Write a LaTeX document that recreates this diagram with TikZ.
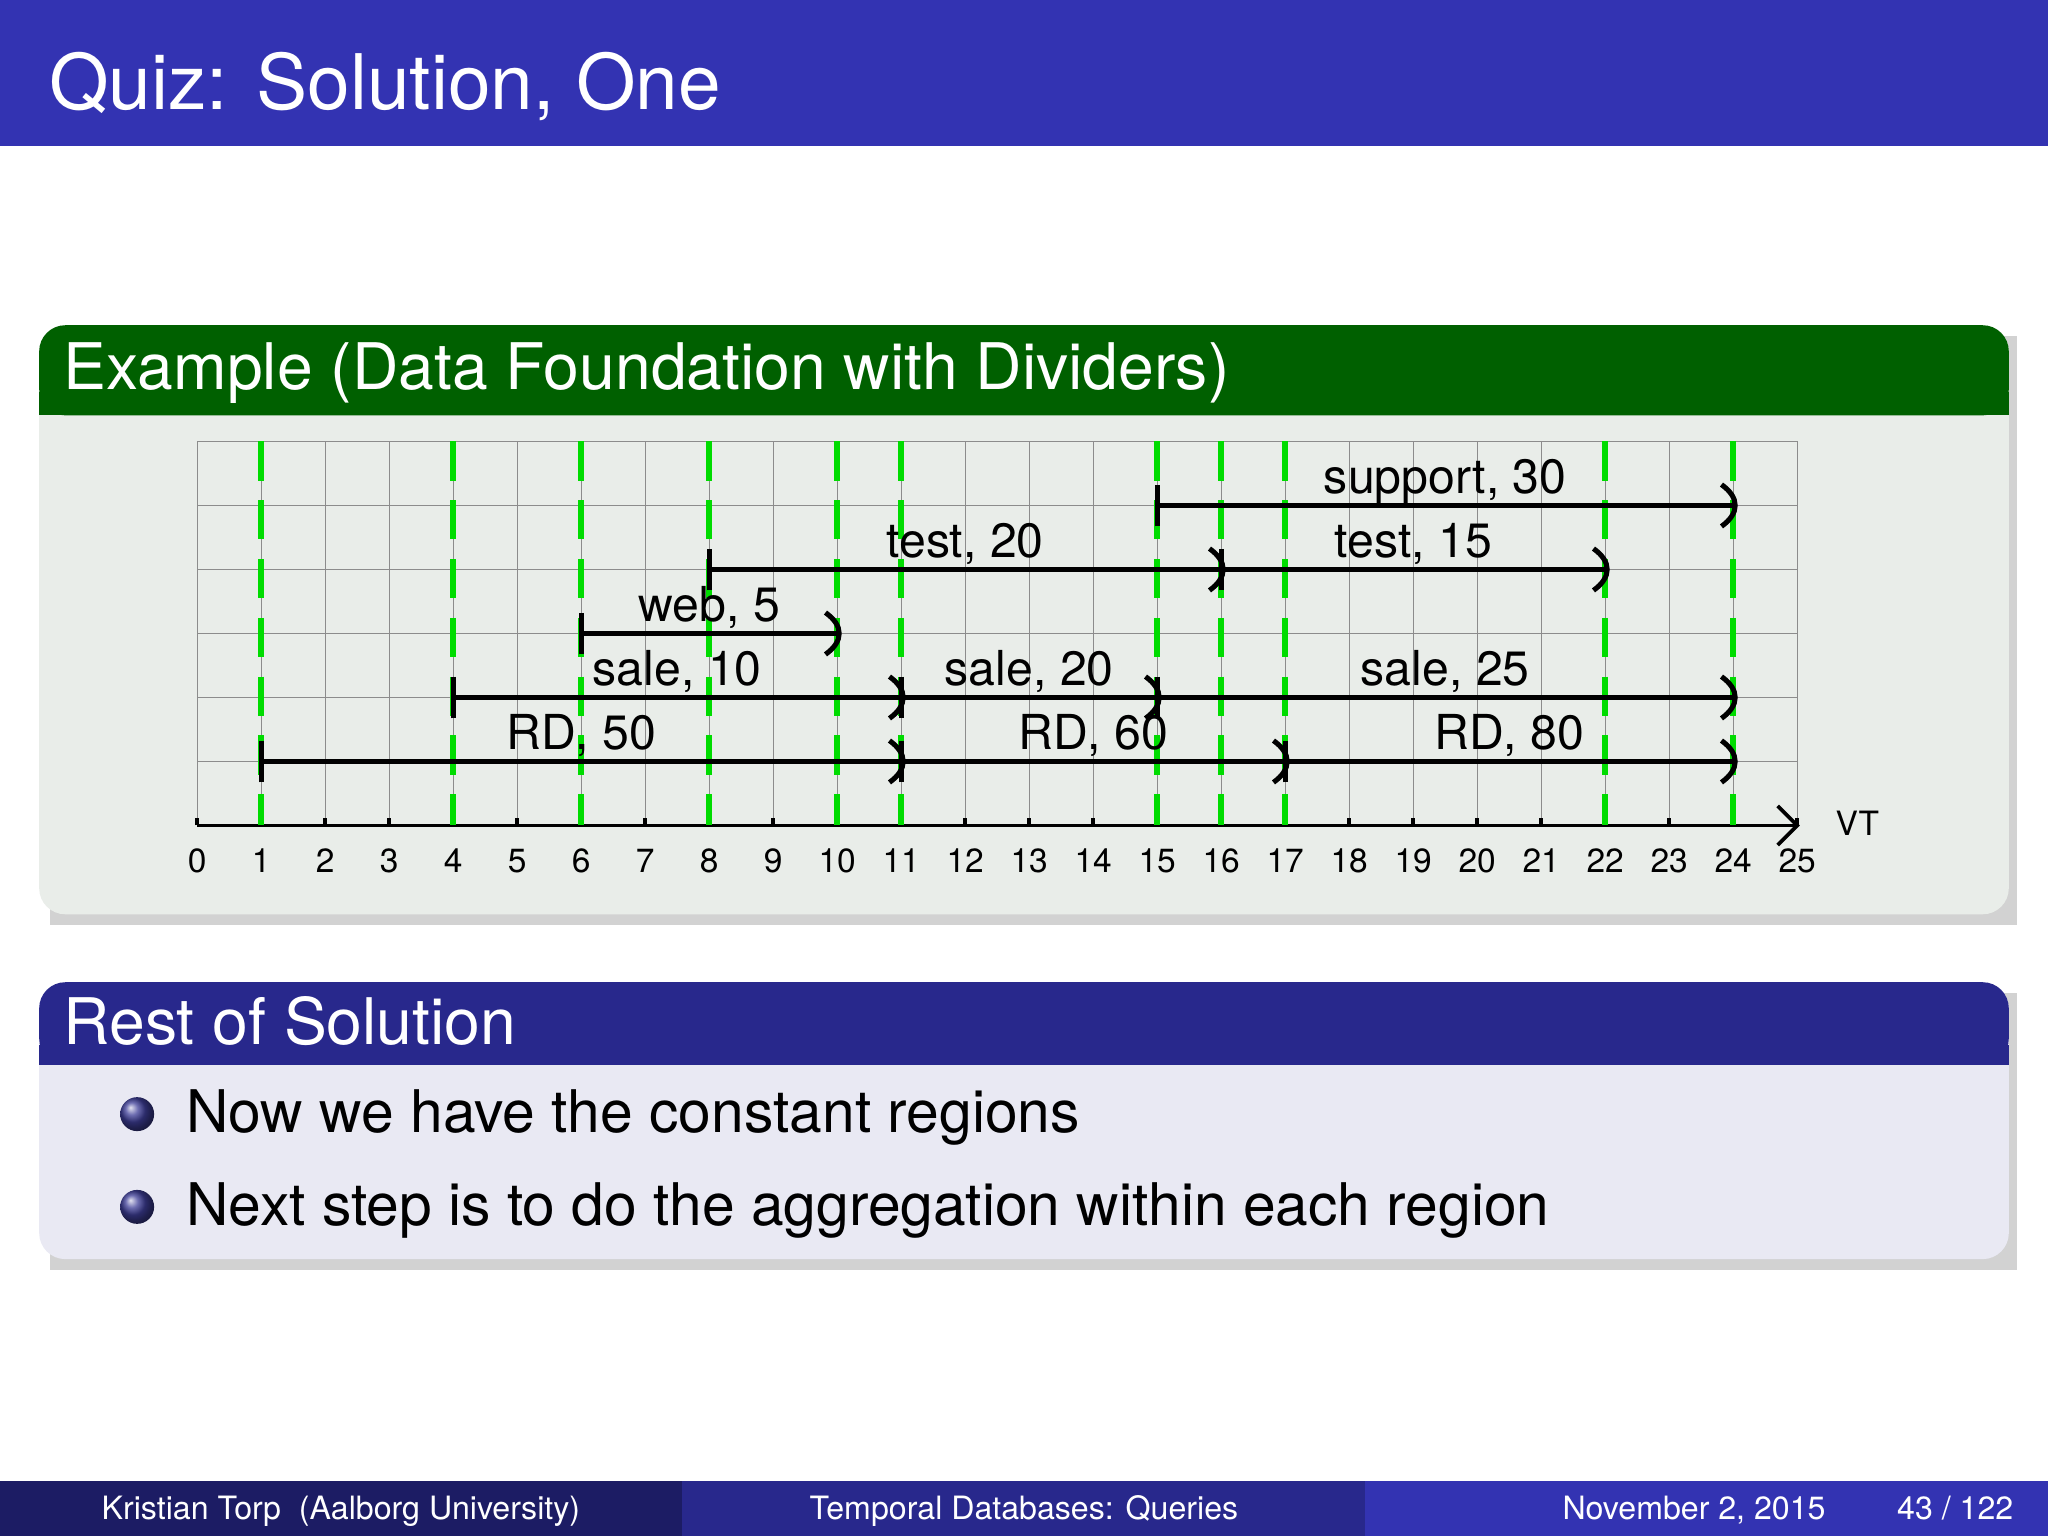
\documentclass[tikz,border=0pt]{standalone}
\usepackage{fontspec}
\setmainfont{TeX Gyre Heros}
\usetikzlibrary{arrows.meta,shadows}
\definecolor{hdr}{RGB}{51,51,178}
\definecolor{grn}{RGB}{0,96,0}
\definecolor{grnbody}{RGB}{233,237,233}
\definecolor{blu}{RGB}{40,40,140}
\definecolor{blubody}{RGB}{233,233,243}
\definecolor{foota}{RGB}{28,28,100}
\definecolor{footb}{RGB}{40,40,140}
\definecolor{divg}{RGB}{0,220,0}
\tikzset{
  lbl/.style={font=\fontsize{10.5}{12}\selectfont,inner sep=0pt,anchor=base},
  ivl/.style={line width=1.1pt},
  tick/.style={font=\fontsize{7.3}{9}\selectfont,anchor=base},
  bul/.style={circle,inner sep=0pt,minimum size=2.6mm,ball color=blu!90!white},
  btxt/.style={font=\fontsize{12.8}{16}\selectfont,anchor=base west,inner sep=0pt},
  foot/.style={font=\fontsize{7}{9}\selectfont,text=white,anchor=base,inner sep=0pt}
}
\begin{document}
\begin{tikzpicture}[x=0.1mm,y=-0.1mm]
\useasboundingbox (0,0) rectangle (1568,1176);
\fill[white] (0,0) rectangle (1568,1176);
% header
\fill[hdr] (0,0) rectangle (1568,112);
\node[anchor=base west,text=white,inner sep=0pt,font=\fontsize{16.7}{20}\selectfont] (title) at (37,84) {Quiz: Solution, One};
% example block
\fill[black!35,opacity=0.5] (38,257) rectangle (1544,708);
\fill[grnbody,rounded corners=2mm] (30,249) rectangle (1538,700);
\fill[grn,rounded corners=2mm] (30,249) rectangle (1538,318);
\fill[grn] (30,300) rectangle (1538,318);
\node[anchor=base west,text=white,inner sep=0pt,font=\fontsize{14}{17}\selectfont] (ex) at (48,298) {Example (Data Foundation with Dividers)};
% grid
\foreach \i in {0,...,25}{ \draw[black!45,line width=0.3pt] (151+49*\i,338) -- (151+49*\i,632); }
\foreach \r in {0,...,5}{ \draw[black!45,line width=0.3pt] (151,338+49*\r) -- (1376,338+49*\r); }
\foreach \i in {0,...,25}{
  \draw[line width=0.8pt] (151+49*\i,632) -- (151+49*\i,626);
  \node[tick] (t\i) at (151+49*\i,668) {\i};
}
\coordinate (a0) at (151,632); \coordinate (a1) at (1378,632);
\draw[line width=0.8pt,-{Straight Barb[length=1.5mm,width=3mm]}] (a0) -- (a1);
\node[tick,anchor=base west] (vt) at (1393,640) {VT};
\foreach \d in {1,4,6,8,10,11,15,16,17,22,24}{
  \draw[divg,line width=1.4pt,dash pattern=on 3mm off 1.5mm] (151+49*\d,338) -- (151+49*\d,632);
}
% intervals: start,end,y,label,labelx
\foreach \s/\e/\y/\t/\lx in {1/11/583/{RD, 50}/6,11/17/583/{RD, 60}/14,17/24/583/{RD, 80}/20.5,
  4/11/534/{sale, 10}/7.5,11/15/534/{sale, 20}/13,15/24/534/{sale, 25}/19.5,
  6/10/485/{web, 5}/8,8/16/436/{test, 20}/12,16/22/436/{test, 15}/19,15/24/387/{support, 30}/19.5}{
  \coordinate (s) at (151+49*\s,\y);
  \coordinate (e) at (151+49*\e,\y);
  \draw[ivl] (s) -- (e);
  \draw[ivl] ([yshift=-1.6mm]s) -- ([yshift=1.6mm]s);
  \draw[ivl] ([xshift=-0.9mm,yshift=-1.6mm]e) .. controls ([xshift=0.5mm,yshift=-0.6mm]e) and ([xshift=0.5mm,yshift=0.6mm]e) .. ([xshift=-0.9mm,yshift=1.6mm]e);
  \node[lbl] at (151+49*\lx,\y-9) {\t};
}
% rest block
\fill[black!35,opacity=0.5] (38,760) rectangle (1544,972);
\fill[blubody,rounded corners=2mm] (30,752) rectangle (1538,964);
\fill[blu,rounded corners=2mm] (30,752) rectangle (1538,815);
\fill[blu] (30,800) rectangle (1538,815);
\node[anchor=base west,text=white,inner sep=0pt,font=\fontsize{14}{17}\selectfont] (rest) at (48,800) {Rest of Solution};
\node[bul] (b1) at (105,853) {};
\node[btxt] (x1) at (142,867) {Now we have the constant regions};
\node[bul] (b2) at (105,924) {};
\node[btxt] (x2) at (142,938) {Next step is to do the aggregation within each region};
% footer
\fill[foota] (0,1134) rectangle (522,1176);
\fill[footb] (522,1134) rectangle (1045,1176);
\fill[hdr] (1045,1134) rectangle (1568,1176);
\node[foot] (f1) at (261,1163) {Kristian Torp\ \ (Aalborg University)};
\node[foot] (f2) at (784,1163) {Temporal Databases: Queries};
\node[foot] (f3) at (1297,1163) {November 2, 2015};
\node[foot] (f4) at (1497,1163) {43 / 122};
\end{tikzpicture}
\end{document}
